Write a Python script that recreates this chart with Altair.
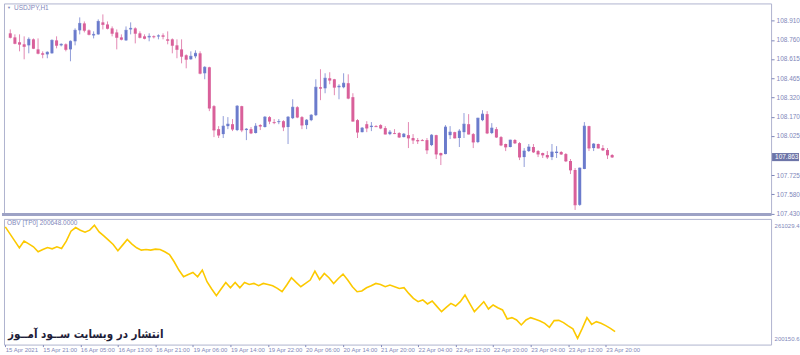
import altair as alt
import pandas as pd

# ---------------- data ----------------
opens = [108.811, 108.780, 108.742, 108.727, 108.719, 108.765, 108.688, 108.658, 108.650, 108.658,
         108.757, 108.719, 108.727, 108.688, 108.750, 108.834, 108.887, 108.834, 108.795, 108.803,
         108.895, 108.879, 108.849, 108.818, 108.780, 108.757, 108.841, 108.849, 108.811, 108.788,
         108.780, 108.788, 108.788, 108.795, 108.765, 108.765, 108.719, 108.688, 108.643, 108.612,
         108.635, 108.658, 108.505, 108.551, 108.253, 108.077, 108.039, 108.100, 108.115, 108.070,
         108.253, 108.070, 108.077, 108.047, 108.108, 108.093, 108.169, 108.131, 108.131, 108.138,
         108.093, 108.161, 108.245, 108.169, 108.108, 108.146, 108.184, 108.398, 108.390, 108.467,
         108.459, 108.398, 108.398, 108.429, 108.322, 108.146, 108.054, 108.115, 108.093, 108.100,
         108.108, 108.085, 108.039, 108.047, 108.047, 108.016, 108.031, 108.009, 107.993, 107.993,
         107.993, 107.955, 108.031, 107.894, 107.886, 108.031, 108.054, 108.009, 108.054, 108.115,
         108.039, 107.978, 108.146, 108.192, 108.047, 108.077, 108.016, 107.963, 107.940, 107.993,
         107.970, 107.863, 107.909, 107.940, 107.909, 107.894, 107.879, 107.863, 107.894, 107.902,
         107.886, 107.833, 107.764, 107.497, 107.772, 108.100, 107.932, 107.963, 107.932, 107.917,
         107.879]
highs = [108.841, 108.803, 108.803, 108.788, 108.780, 108.772, 108.772, 108.673, 108.673, 108.765,
         108.788, 108.734, 108.734, 108.757, 108.849, 108.933, 108.902, 108.841, 108.826, 108.918,
         108.956, 108.902, 108.864, 108.841, 108.803, 108.864, 108.895, 108.857, 108.826, 108.803,
         108.811, 108.795, 108.803, 108.811, 108.826, 108.772, 108.765, 108.765, 108.650, 108.673,
         108.681, 108.673, 108.559, 108.555, 108.261, 108.100, 108.177, 108.169, 108.154, 108.261,
         108.256, 108.085, 108.093, 108.123, 108.115, 108.177, 108.177, 108.154, 108.154, 108.146,
         108.177, 108.306, 108.253, 108.177, 108.154, 108.192, 108.459, 108.536, 108.505, 108.513,
         108.462, 108.421, 108.505, 108.497, 108.352, 108.154, 108.093, 108.138, 108.131, 108.108,
         108.115, 108.100, 108.070, 108.077, 108.054, 108.047, 108.131, 108.039, 108.009, 108.001,
         108.009, 108.039, 108.034, 107.897, 108.108, 108.100, 108.057, 108.077, 108.200, 108.192,
         108.047, 108.164, 108.222, 108.215, 108.123, 108.093, 108.024, 107.966, 107.996, 108.001,
         107.978, 107.932, 107.963, 107.963, 107.917, 107.897, 107.909, 107.963, 107.947, 107.909,
         107.894, 107.848, 107.779, 107.782, 108.131, 108.103, 107.970, 107.966, 107.955, 107.932,
         107.886]
lows = [108.772, 108.727, 108.673, 108.612, 108.658, 108.690, 108.650, 108.620, 108.620, 108.655,
        108.696, 108.711, 108.673, 108.597, 108.719, 108.803, 108.818, 108.795, 108.772, 108.800,
        108.841, 108.841, 108.788, 108.688, 108.757, 108.754, 108.803, 108.734, 108.772, 108.765,
        108.750, 108.772, 108.765, 108.765, 108.727, 108.658, 108.620, 108.581, 108.543, 108.609,
        108.620, 108.497, 108.459, 108.215, 108.016, 108.009, 108.009, 108.077, 108.062, 108.062,
        108.054, 107.993, 108.039, 108.044, 108.070, 108.090, 108.115, 108.115, 108.115, 108.062,
        107.963, 108.154, 108.161, 108.077, 108.077, 108.138, 108.177, 108.299, 108.352, 108.421,
        108.337, 108.306, 108.390, 108.306, 108.135, 108.009, 108.052, 108.054, 108.062, 108.093,
        108.077, 108.037, 108.031, 108.039, 108.009, 108.014, 107.932, 107.963, 107.963, 107.986,
        107.886, 107.947, 107.848, 107.802, 107.884, 108.001, 108.006, 107.940, 108.009, 108.036,
        107.932, 107.970, 108.138, 108.039, 108.039, 108.009, 107.947, 107.909, 107.937, 107.963,
        107.840, 107.787, 107.902, 107.894, 107.863, 107.856, 107.848, 107.840, 107.856, 107.879,
        107.825, 107.733, 107.458, 107.489, 107.770, 107.909, 107.909, 107.929, 107.909, 107.848,
        107.856]
closes = [108.780, 108.734, 108.727, 108.711, 108.765, 108.696, 108.658, 108.650, 108.666, 108.757,
          108.719, 108.727, 108.688, 108.750, 108.834, 108.887, 108.834, 108.803, 108.803, 108.902,
          108.879, 108.849, 108.811, 108.780, 108.765, 108.834, 108.849, 108.811, 108.780, 108.772,
          108.788, 108.784, 108.792, 108.788, 108.757, 108.719, 108.688, 108.635, 108.612, 108.635,
          108.658, 108.505, 108.551, 108.238, 108.070, 108.031, 108.100, 108.115, 108.077, 108.253,
          108.070, 108.077, 108.047, 108.100, 108.100, 108.169, 108.138, 108.127, 108.135, 108.093,
          108.169, 108.245, 108.169, 108.108, 108.146, 108.184, 108.398, 108.390, 108.467, 108.452,
          108.398, 108.406, 108.429, 108.314, 108.138, 108.054, 108.085, 108.085, 108.100, 108.096,
          108.085, 108.039, 108.054, 108.043, 108.016, 108.039, 108.009, 107.993, 107.986, 107.989,
          107.917, 108.031, 107.886, 107.879, 108.093, 108.054, 108.009, 108.062, 108.115, 108.039,
          107.978, 108.161, 108.192, 108.047, 108.085, 108.016, 107.955, 107.940, 107.993, 107.970,
          107.863, 107.909, 107.940, 107.902, 107.886, 107.879, 107.863, 107.902, 107.902, 107.886,
          107.833, 107.764, 107.497, 107.779, 108.100, 107.932, 107.963, 107.932, 107.917, 107.879,
          107.863]
obv = [260117, 256359, 252602, 248844, 252441, 250991, 249381, 246697, 247932, 249005,
       248307, 249381, 248468, 252441, 257808, 259741, 258345, 257272, 258345, 261029,
       257433, 255285, 252977, 250615, 247233, 250293, 253299, 250830, 248844, 247609,
       247932, 247609, 248146, 247932, 246697, 245247, 241329, 236873, 233277, 234511,
       235585, 233277, 236873, 230593, 226674, 223078, 226674, 230217, 227372, 230217,
       227372, 230217, 229144, 229680, 228446, 229680, 229144, 228446, 226996, 225224,
       228821, 232740, 230217, 227908, 229680, 231505, 236336, 231827, 235048, 232740,
       229680, 232364, 234726, 231505, 227908, 225224, 225600, 227372, 228445, 229680,
       229143, 227908, 228821, 227908, 226996, 227372, 224312, 221628, 219856, 220769,
       218622, 220232, 217333, 214488, 216797, 218944, 217548, 219856, 223453, 218944,
       214488, 217172, 219856, 215938, 218085, 216636, 215401, 210570, 211268, 210033,
       207349, 210033, 211268, 210355, 209496, 208208, 206061, 209657, 209818, 208584,
       206812, 205202, 200151, 205524, 211268, 207671, 209120, 208208, 206973, 205524,
       203752]

time_labels = ["15 Apr 2021", "15 Apr 21:00", "16 Apr 05:00", "16 Apr 13:00", "16 Apr 21:00",
               "19 Apr 06:00", "19 Apr 14:00", "19 Apr 22:00", "20 Apr 06:00", "20 Apr 14:00",
               "21 Apr 20:00", "22 Apr 04:00", "22 Apr 12:00", "22 Apr 20:00", "23 Apr 04:00",
               "23 Apr 12:00", "23 Apr 20:00"]
label_step = 8
price_ticks = [108.910, 108.760, 108.615, 108.465, 108.320, 108.170, 108.025, 107.725, 107.580, 107.430]
obv_ticks = [261029.4, 200150.6]
symbol_title = "USDJPY,H1"
obv_title = "OBV [TP0] 200648.0000"
watermark = "انتشار در وبسایت ســود آمــوز"

# ---------------- styling ----------------
BLUE = "#6b7bcc"
PINK = "#d9609a"
AXIS_C = "#7f88ba"
FRAME_C = "#b0b4cf"
SEP_C = "#9da2c5"
FONT = "Liberation Sans"

n = len(opens)
df = pd.DataFrame({"i": list(range(n)), "open": opens, "high": highs,
                   "low": lows, "close": closes, "obv": obv})
df["dir"] = ["up" if c >= o else "down" for o, c in zip(opens, closes)]

W = 769
H_TOP = 212
H_BOT = 126

xscale = alt.Scale(domain=[-0.28, 163.25], nice=False, zero=False)
yscale = alt.Scale(domain=[107.420, 109.040], nice=False, zero=False)
cscale = alt.Scale(domain=["up", "down"], range=[BLUE, PINK])

base = alt.Chart(df).encode(x=alt.X("i:Q", scale=xscale, axis=None))

price_axis = alt.Axis(orient="right", values=price_ticks, format=".3f", title=None,
                      grid=False, domain=False, tickSize=3, tickColor=AXIS_C,
                      labelColor=AXIS_C, labelFontSize=6.5, labelFont=FONT,
                      labelPadding=2, labelOverlap=False, labelBound=False)

wicks = base.mark_rule(strokeWidth=1, opacity=0.75).encode(
    y=alt.Y("low:Q", scale=yscale, axis=price_axis),
    y2="high:Q",
    color=alt.Color("dir:N", scale=cscale, legend=None),
)
bodies = base.mark_bar(size=3).encode(
    y=alt.Y("open:Q", scale=yscale, axis=price_axis),
    y2="close:Q",
    color=alt.Color("dir:N", scale=cscale, legend=None),
)
close_ticks = base.mark_tick(orient="horizontal", size=3, thickness=1).encode(
    y=alt.Y("close:Q", scale=yscale, axis=price_axis),
    color=alt.Color("dir:N", scale=cscale, legend=None),
)

cur = pd.DataFrame({"p": [closes[-1]], "txt": [f"{closes[-1]:.3f}"]})
cur_rect = alt.Chart(cur).transform_calculate(
    hi="datum.p + 0.031", lo="datum.p - 0.031"
).mark_rect(color="#6d75a8").encode(
    x=alt.value(W + 1), x2=alt.value(W + 28),
    y=alt.Y("hi:Q", scale=yscale, axis=price_axis), y2="lo:Q")
cur_text = alt.Chart(cur).mark_text(align="left", baseline="middle", color="white",
                                    fontSize=6.5, font=FONT).encode(
    x=alt.value(W + 4), y=alt.Y("p:Q", scale=yscale, axis=price_axis), text="txt:N")

title_df = pd.DataFrame({"t": [symbol_title]})
title_tri = alt.Chart(title_df).mark_text(text="▼", fontSize=4, color=AXIS_C,
                                          align="left", baseline="middle").encode(
    x=alt.value(3), y=alt.value(5))
title_txt = alt.Chart(title_df).mark_text(fontSize=6.5, font=FONT, color=AXIS_C,
                                          align="left", baseline="middle").encode(
    x=alt.value(10), y=alt.value(5), text="t:N")

# thick separator between the two panes, kept inside the top pane's plot area
sep = alt.Chart(title_df).mark_rule(color=SEP_C, strokeWidth=3).encode(
    x=alt.value(-2), x2=alt.value(W), y=alt.value(H_TOP - 0.5))

top = alt.layer(wicks, bodies, close_ticks, cur_rect, cur_text, title_tri, title_txt, sep).properties(
    width=W, height=H_TOP)

# ---------------- OBV panel ----------------
labels_js = "[" + ",".join("'" + s + "'" for s in time_labels) + "]"
x_axis = alt.Axis(values=list(range(0, label_step * len(time_labels), label_step)),
                  labelExpr=labels_js + "[round(datum.value / " + str(label_step) + ")]",
                  title=None, grid=False, domain=False, tickSize=2, tickColor=AXIS_C,
                  labelColor=AXIS_C, labelFontSize=6, labelFont=FONT, labelAlign="left",
                  labelPadding=0, labelOverlap=False, labelFlush=False, labelBound=False)
obv_axis = alt.Axis(orient="right", values=obv_ticks, format=".1f", title=None,
                    grid=False, domain=False, tickSize=0, labelColor=AXIS_C,
                    labelFontSize=6, labelFont=FONT, labelPadding=3, labelOverlap=False,
                    labelBound=False)
oscale = alt.Scale(domain=[196774, 264411], nice=False, zero=False)

obv_line = alt.Chart(df).mark_line(color="#fcc900", strokeWidth=1.6).encode(
    x=alt.X("i:Q", scale=xscale, axis=x_axis),
    y=alt.Y("obv:Q", scale=oscale, axis=obv_axis),
)
obv_df = pd.DataFrame({"t": [obv_title]})
obv_txt = alt.Chart(obv_df).mark_text(fontSize=6.5, font=FONT, color=AXIS_C,
                                      align="left", baseline="middle").encode(
    x=alt.value(3), y=alt.value(4), text="t:N")
wm_df = pd.DataFrame({"t": [watermark]})
wm_txt = alt.Chart(wm_df).mark_text(fontSize=11.5, font="DejaVu Sans Condensed, DejaVu Sans",
                                    fontWeight="bold", color="#1e2038",
                                    align="center", baseline="middle").encode(
    x=alt.value(82), y=alt.value(116), text="t:N")

bottom = alt.layer(obv_line, obv_txt, wm_txt).properties(width=W, height=H_BOT)

chart = alt.vconcat(top, bottom, spacing=0).resolve_scale(
    y="independent", x="independent", color="independent"
).properties(
    padding={"left": 0, "top": 2, "right": 0, "bottom": 0},
    background="white",
).configure_view(stroke=FRAME_C, strokeWidth=1)

chart.save("out.html", embed_options={"renderer": "svg", "actions": False})
